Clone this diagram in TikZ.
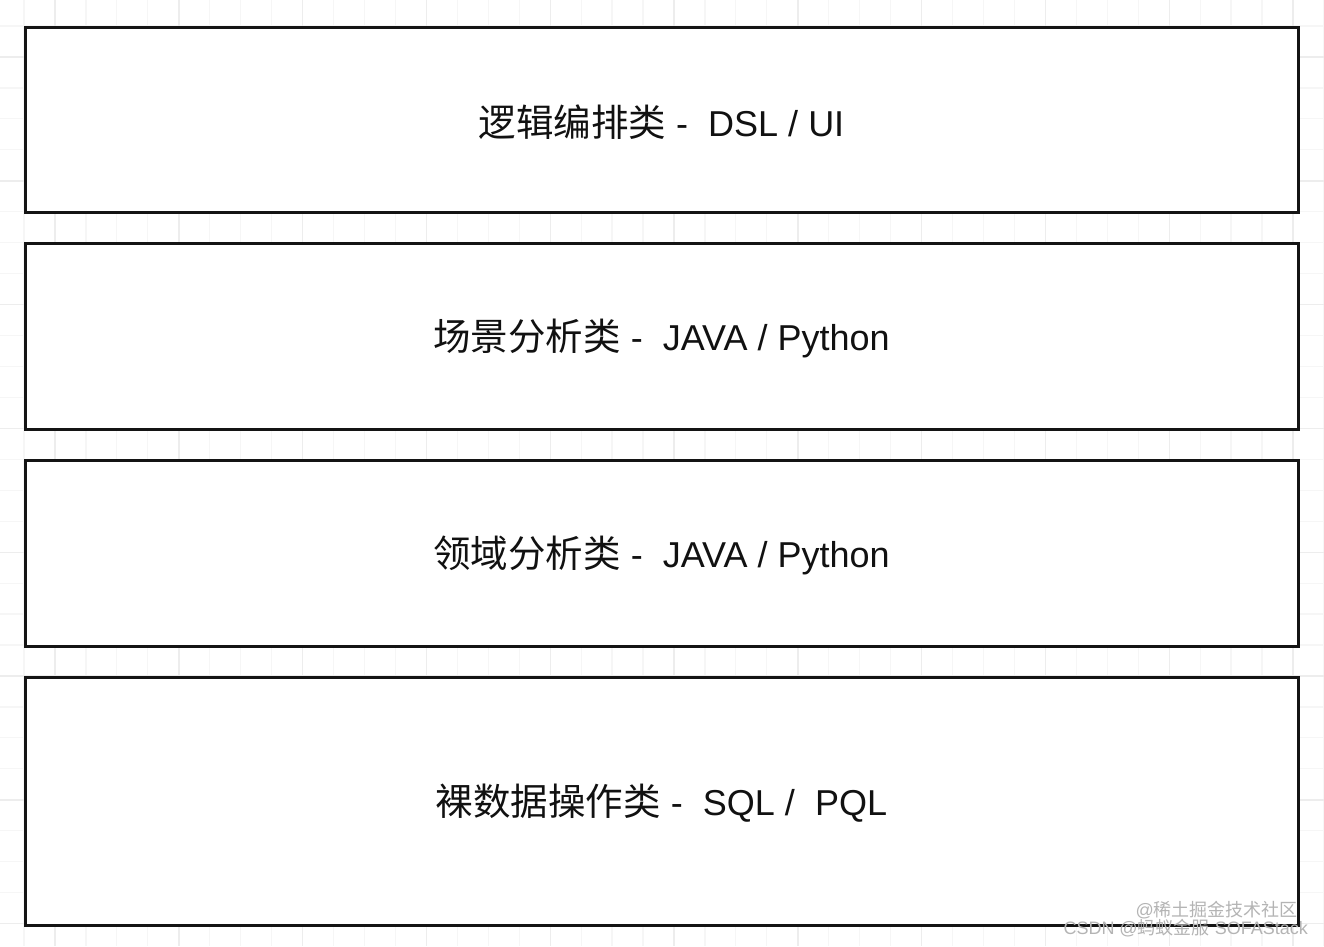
\documentclass[tikz,border=0pt]{standalone}
\usepackage{fontspec}
\setmainfont{Liberation Sans}
\newfontfamily\cjk{Noto Sans CJK SC}
\definecolor{minorg}{HTML}{F6F6F6}
\definecolor{majorg}{HTML}{EDEDED}
\definecolor{boxline}{HTML}{141414}
\definecolor{txt}{HTML}{111111}
\definecolor{wm}{HTML}{B4B4B4}
\tikzset{
  minorgrid/.style={draw=minorg, line width=1.2pt},
  majorgrid/.style={draw=majorg, line width=1.4pt},
  layerbox/.style={draw=boxline, fill=white, line width=3pt, rectangle,
    minimum width=1273pt, inner sep=0pt, outer sep=0pt},
  layertext/.style={text=txt, inner sep=0pt, font=\fontsize{36}{40}\selectfont},
  watermark/.style={text=wm, inner sep=0pt, anchor=east, font=\fontsize{18}{20}\selectfont}
}
\newcommand{\zh}[1]{{\cjk\fontsize{37.5}{40}\selectfont #1}}
\newcommand{\zhs}[1]{{\cjk\fontsize{18}{20}\selectfont #1}}
\begin{document}
\begin{tikzpicture}[x=1pt,y=-1pt]
\fill[white] (0,0) rectangle (1324,946);
\useasboundingbox (0,0) rectangle (1324,946);
% grid
\foreach \i in {0,...,42} {
  \pgfmathsetmacro\xx{24+30.95*\i}
  \draw[minorgrid] (\xx,0) -- (\xx,946);
}
\foreach \i in {-1,...,29} {
  \pgfmathsetmacro\yy{26+30.95*\i}
  \draw[minorgrid] (0,\yy) -- (1324,\yy);
}
\foreach \i in {0,...,10} {
  \pgfmathsetmacro\xx{55+123.8*\i}
  \draw[majorgrid] (\xx,0) -- (\xx,946);
}
\foreach \i in {0,...,7} {
  \pgfmathsetmacro\yy{57+123.8*\i}
  \draw[majorgrid] (0,\yy) -- (1324,\yy);
}
% layers
\node[layerbox, minimum height=185pt] (l1) at (661.5,119.5) {};
\node[layerbox, minimum height=186pt] (l2) at (661.5,336) {};
\node[layerbox, minimum height=186pt] (l3) at (661.5,553) {};
\node[layerbox, minimum height=248pt] (l4) at (661.5,801) {};
\node[layertext] (t1) at ([yshift=-2.5pt]l1.center) {\zh{逻辑编排类} -\ \ DSL / UI};
\node[layertext] (t2) at ([yshift=-2.5pt]l2.center) {\zh{场景分析类} -\ \ JAVA / Python};
\node[layertext] (t3) at ([yshift=-2.5pt]l3.center) {\zh{领域分析类} -\ \ JAVA / Python};
\node[layertext] (t4) at ([yshift=-2.5pt]l4.center) {\zh{裸数据操作类} -\ \ SQL /\ \ PQL};
% watermark
\node[watermark] (w1) at (1298,910) {@\zhs{稀土掘金技术社区}};
\node[watermark] (w2) at (1308,928) {CSDN @\zhs{蚂蚁金服} SOFAStack};
\end{tikzpicture}
\end{document}
